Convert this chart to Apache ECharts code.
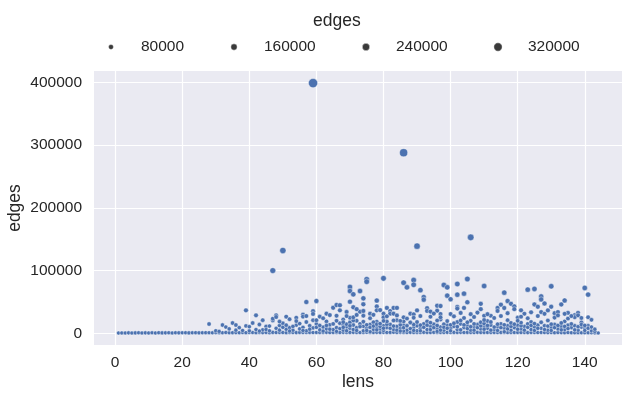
<!DOCTYPE html>
<html>
<head>
<meta charset="utf-8">
<script src="https://cdn.jsdelivr.net/npm/echarts@6/dist/echarts.min.js"></script>
<style>
  html, body { margin: 0; padding: 0; background: #fff; }
  #chart { width: 629px; height: 399px; }
</style>
</head>
<body>
<div id="chart"></div>
<script>
// baseline: one point per lens value 1..144, all close to zero
const baseEdges = [
  400, 600, 500, 700, 450, 650, 800, 550, 700, 600, 750, 500, 900, 650, 700, 800, 600, 850, 700, 750,
  900, 650, 800, 950, 700, 850, 1000, 900, 750, 1100, 850, 950, 1200, 800, 1000, 1100, 900, 1300, 1000, 1150,
  1200, 950, 1300, 1100, 1250, 1000, 1400, 1150, 1300, 1200, 1050, 1350, 1250, 1100, 1400, 1300, 1200, 1450, 1150, 1300,
  1400, 1250, 1500, 1200, 1350, 1450, 1300, 1550, 1250, 1400, 1500, 1350, 1200, 1450, 1600, 1300, 1400, 1550, 1250, 1500,
  1350, 1450, 1600, 1300, 1500, 1400, 1250, 1550, 1350, 1450, 1300, 1500, 1400, 1250, 1550, 1350, 1450, 1300, 1500, 1200,
  1400, 1300, 1500, 1250, 1450, 1350, 1200, 1500, 1300, 1400, 1250, 1450, 1350, 1200, 1400, 1300, 1150, 1450, 1250, 1350,
  1200, 1400, 1100, 1300, 1250, 1150, 1350, 1200, 1100, 1300, 1000, 1200, 1100, 950, 1150, 1000, 900, 1050, 850, 950,
  800, 900, 700, 600
]

// low cluster [lens, edges]
const lowPoints = [
  [28, 14800], [30, 4000], [32, 13200], [33, 10000], [35, 16400], [36, 13200], [36, 5000], [38, 4500], [39, 11700], [41, 16400],
  [42, 6000], [43, 14000], [44, 5500], [45, 11000], [46, 11500], [47, 20500], [48, 8000], [49, 12300], [50, 16000], [51, 6500],
  [52, 9000], [53, 5000], [54, 13100], [55, 7000], [56, 9500], [57, 4000], [58, 12000], [59, 8500], [60, 15000], [61, 5500],
  [62, 10000], [63, 7000], [64, 13500], [65, 6000], [66, 9000], [67, 16000], [68, 13500], [68, 5000], [69, 10000], [70, 8000],
  [71, 13200], [71, 6000], [72, 9000], [73, 15000], [74, 11000], [74, 4000], [75, 8000], [76, 14000], [77, 6000], [78, 10000],
  [79, 7000], [80, 12000], [80, 4500], [81, 9000], [82, 14000], [83, 6000], [84, 11000], [85, 8000], [86, 13000], [87, 5000],
  [88, 17300], [89, 9000], [90, 12000], [90, 4000], [91, 8000], [92, 15000], [93, 6000], [94, 11000], [95, 14400], [96, 7000],
  [97, 10000], [98, 5000], [99, 13000], [100, 8000], [101, 11000], [102, 6000], [103, 15000], [104, 9000], [105, 12000], [106, 5000],
  [107, 10000], [108, 14000], [109, 7000], [110, 11000], [111, 8000], [112, 13000], [113, 6000], [114, 10000], [115, 15000], [116, 8000],
  [117, 12000], [118, 5000], [119, 9000], [120, 13000], [121, 7000], [122, 11000], [123, 15000], [124, 6000], [125, 10000], [126, 13000],
  [127, 8000], [128, 12000], [129, 5000], [130, 9000], [131, 14000], [132, 7000], [133, 11000], [134, 6000], [135, 13000], [136, 9000],
  [137, 12000], [138, 5000], [139, 10000], [140, 8000], [141, 12000], [142, 4000], [143, 3000],
  [57, 18000], [63, 19000], [72, 20000], [78, 18500], [84, 21000], [93, 19000], [97, 22000], [102, 18000], [106, 20000], [111, 19500],
  [117, 21000], [124, 18000], [129, 20500], [134, 19000], [139, 17500], [66, 3000], [76, 2500], [86, 3500], [96, 3000], [116, 2500]
]

// second layer of the dense band under 25000 [lens, edges]
const bandPoints = [
  [31, 3000], [34, 7000], [37, 9000], [40, 4000], [40, 10500], [43, 3500], [45, 6000], [46, 4000], [49, 5000], [50, 9500],
  [51, 13000], [52, 3500], [53, 11000], [55, 15500], [56, 4500], [58, 6500], [60, 9500], [61, 12500], [62, 3500], [63, 12500],
  [64, 6500], [65, 15000], [66, 20000], [67, 7500], [68, 9500], [69, 14500], [69, 4000], [70, 17500], [70, 12000], [71, 20500],
  [72, 4500], [73, 10500], [74, 18500], [75, 13500], [75, 4500], [76, 9500], [77, 17500], [77, 11500], [78, 5500], [78, 14500],
  [79, 11000], [79, 15500], [80, 8000], [81, 14500], [81, 19000], [82, 8000], [83, 11500], [83, 20500], [84, 5000], [85, 13500],
  [85, 3500], [86, 9000], [86, 19000], [87, 12000], [88, 7500], [89, 14000], [89, 4500], [90, 18000], [91, 13000], [91, 4000],
  [92, 9500], [93, 13000], [94, 6000], [94, 17000], [95, 9000], [96, 12500], [96, 20500], [97, 5000], [98, 14500], [98, 9500],
  [99, 8000], [99, 19500], [100, 13500], [100, 4000], [101, 16000], [102, 10500], [103, 5500], [103, 20500], [104, 13500], [105, 7500],
  [105, 17500], [106, 10500], [107, 15000], [107, 5000], [108, 9000], [109, 12000], [109, 17500], [110, 6500], [110, 15500], [111, 12500],
  [112, 5000], [112, 18000], [113, 10000], [114, 14500], [114, 4500], [115, 9000], [116, 13500], [117, 7000], [118, 11000], [118, 16500],
  [119, 14500], [120, 6500], [121, 12000], [121, 17000], [122, 5000], [123, 9500], [124, 12500], [125, 15500], [125, 4500], [126, 8000],
  [127, 17500], [128, 6000], [129, 11500], [130, 14500], [130, 4500], [131, 9000], [132, 12500], [133, 16500], [133, 5500], [134, 11000],
  [135, 7500], [136, 15000], [137, 5500], [138, 10500], [139, 14000], [140, 12500], [140, 4500], [141, 8000], [142, 10000], [143, 6500]
]

// mid range [lens, edges]
const midPoints = [
  [39, 36600], [42, 28700], [47, 23300], [48, 28700], [48, 26000], [49, 18700], [51, 26500], [54, 24800], [54, 19500], [56, 29800],
  [56, 26600], [57, 49900], [59, 35200], [59, 30900], [59, 20900], [60, 51500], [60, 20900], [61, 26600], [63, 31300], [65, 40800],
  [66, 45100], [66, 28000], [67, 44600], [67, 36600], [68, 22000], [68, 17800], [69, 34000], [70, 73900], [70, 67400], [70, 50400],
  [70, 24900], [71, 62200], [71, 41500], [71, 25500], [72, 29300], [73, 67400], [73, 34500], [74, 55800], [74, 46200],
  [74, 35600], [74, 28100], [75, 86100], [75, 82300], [76, 31300], [78, 52200], [78, 42800], [78, 36600], [80, 87700], [80, 31300],
  [80, 25400], [80, 19800], [81, 40500], [82, 35500], [82, 31300], [83, 40500], [83, 31300], [84, 40500], [85, 19800], [86, 80700],
  [86, 25400], [87, 73300], [88, 31300], [88, 17300], [89, 84800], [89, 77400], [89, 30200], [89, 24900], [91, 68800], [92, 57800],
  [92, 53600], [93, 40000], [93, 35700], [94, 34600], [96, 44000], [96, 36000], [97, 43500], [97, 30800], [98, 77000], [99, 73300],
  [99, 60000], [100, 54300], [100, 30700], [102, 78600], [102, 61500], [102, 42000], [102, 39400], [104, 63200], [104, 40500], [105, 86600],
  [105, 49500], [109, 47000], [109, 38500], [110, 75400], [110, 28000], [110, 21200], [112, 28000], [114, 40400], [114, 35700], [115, 45700],
  [116, 64800], [116, 40400], [117, 51500], [118, 47000], [119, 43000], [119, 38500], [120, 25000], [120, 20000], [121, 36700], [122, 31200],
  [123, 69600], [123, 24000], [125, 70700], [125, 46000], [126, 42400], [127, 58800], [127, 54100], [127, 33800], [128, 47500], [128, 31100],
  [130, 75000], [130, 42400], [131, 32100], [132, 33800], [133, 46000], [134, 52400], [135, 32600], [137, 29000], [137, 25700], [138, 32600],
  [138, 28600], [140, 72300], [141, 61700], [141, 25600],
  [44, 21000], [52, 22500], [57, 27500], [62, 24000], [64, 29000], [69, 27500], [72, 38500], [76, 24000], [77, 29500], [79, 37000],
  [81, 27000], [84, 28500], [87, 23500], [90, 36500], [91, 27500], [94, 26500], [95, 31500], [97, 25500], [101, 27000], [103, 32500],
  [104, 24500], [106, 30500], [107, 26000], [108, 33000], [111, 30500], [113, 24500], [115, 27500], [117, 32000], [121, 26500], [124, 33500],
  [126, 27500], [129, 36500], [131, 25000], [132, 28500], [134, 31000], [135, 23500], [136, 27500], [139, 24500], [142, 21500]
]

// big outliers [lens, edges]
const highPoints = [[59, 399000], [86, 288000], [50, 132000], [47, 100000], [90, 139000], [106, 153000]]

const xTicks = [0, 20, 40, 60, 80, 100, 120, 140]
const yTicks = [0, 100000, 200000, 300000, 400000]
const sizeLegend = [80000, 160000, 240000, 320000]

const FONT = 'Liberation Sans, Arial, sans-serif'
const TEXT = '#262626'
const BLUE = '#4c72b0'

function dotSize (v) {
  return Math.sqrt(12 + 1.55e-4 * v) + 0.6
}

let allPoints = []
baseEdges.forEach((v, i) => allPoints.push([i + 1, v]))
allPoints = allPoints.concat(lowPoints, bandPoints, midPoints, highPoints)

// size legend built from graphic texts
const legendX = [111, 234, 366, 498]
let legendGraphics = [{
  type: 'text',
  left: 337 - 24,
  top: 12,
  style: { text: 'edges', font: '17.5px ' + FONT, fill: TEXT }
}]
sizeLegend.forEach((v, i) => {
  const r = (Math.sqrt(8 + 1.75e-4 * v) + 0.3) / 2
  legendGraphics.push({
    type: 'circle',
    shape: { cx: legendX[i], cy: 47, r: r },
    style: { fill: '#3a3a3a', stroke: '#fff', lineWidth: 0.4 }
  })
  legendGraphics.push({
    type: 'text',
    x: legendX[i] + 30,
    y: 47,
    style: { text: String(v), font: '15.5px ' + FONT, fill: TEXT, verticalAlign: 'middle', align: 'left' }
  })
})

const chart = echarts.init(document.getElementById('chart'), null, { renderer: 'canvas' })
const option = {
  animation: false,
  backgroundColor: '#fff',
  textStyle: { fontFamily: FONT },
  grid: {
    left: 94,
    right: 7,
    top: 71,
    bottom: 54,
    outerBoundsMode: 'none',
    containLabel: false,
    show: true,
    backgroundColor: '#eaeaf2',
    borderWidth: 0
  },
  graphic: legendGraphics,
  xAxis: {
    type: 'value',
    min: -6.3,
    max: 151.1,
    name: 'lens',
    nameLocation: 'middle',
    nameGap: 28,
    nameMoveOverlap: false,
    nameTextStyle: { fontSize: 17.5, color: TEXT, fontFamily: FONT },
    axisLine: { show: false },
    axisTick: { show: false, customValues: xTicks },
    axisLabel: { customValues: xTicks, fontSize: 15.5, color: TEXT, margin: 10, fontFamily: FONT },
    splitLine: { show: true, lineStyle: { color: '#fff', width: 1.2 } }
  },
  yAxis: {
    type: 'value',
    min: -18660,
    max: 418300,
    name: 'edges',
    nameLocation: 'middle',
    nameGap: 70,
    nameMoveOverlap: false,
    nameTextStyle: { fontSize: 17.5, color: TEXT, fontFamily: FONT },
    axisLine: { show: false },
    axisTick: { show: false, customValues: yTicks },
    axisLabel: {
      customValues: yTicks,
      fontSize: 15.5,
      color: TEXT,
      margin: 12,
      fontFamily: FONT,
      formatter: function (v) { return String(v) }
    },
    splitLine: { show: true, lineStyle: { color: '#fff', width: 1.2 } }
  },
  series: [{
    type: 'scatter',
    data: allPoints,
    symbol: 'circle',
    symbolSize: function (val) {
      return dotSize(val[1])
    },
    itemStyle: {
      color: BLUE,
      borderColor: '#fff',
      borderWidth: 0.4,
      opacity: 1
    }
  }]
}
chart.setOption(option)
</script>
</body>
</html>
